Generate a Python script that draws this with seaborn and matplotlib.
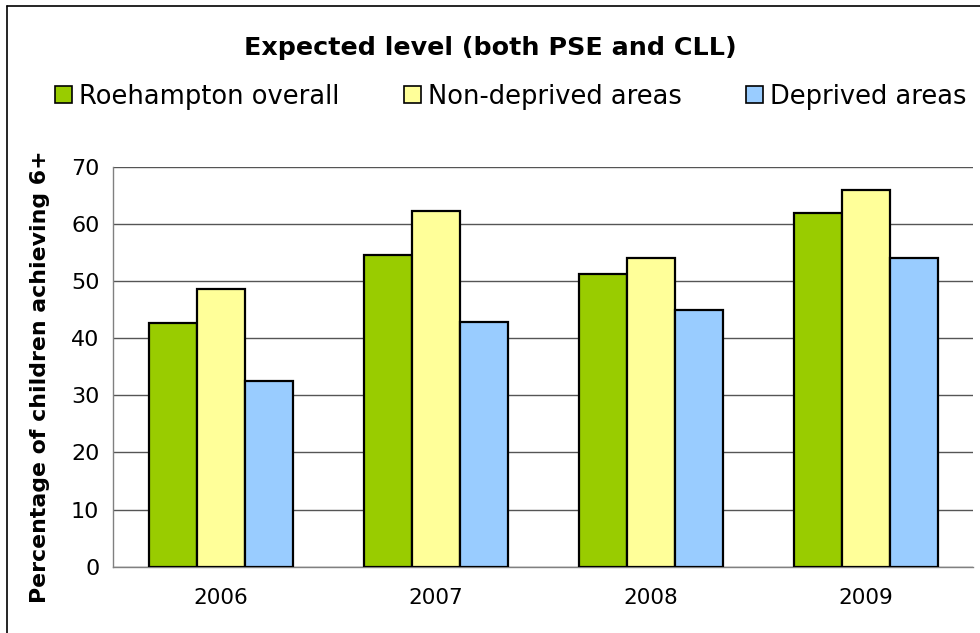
import pandas as pd
import numpy as np
import matplotlib
matplotlib.use("Agg")
import matplotlib.pyplot as plt
from matplotlib.patches import Patch
import seaborn as sns

# data
years = ["2006", "2007", "2008", "2009"]
groups = ["Roehampton overall", "Non-deprived areas", "Deprived areas"]
roehampton = [42.6, 54.5, 51.3, 61.9]
non_deprived = [48.6, 62.2, 54.1, 66.0]
deprived = [32.5, 42.9, 45.0, 54.1]
colors = ["#99CC00", "#FFFF99", "#99CCFF"]

df = pd.DataFrame({
    "year": years * 3,
    "group": [groups[0]] * 4 + [groups[1]] * 4 + [groups[2]] * 4,
    "value": roehampton + non_deprived + deprived,
})

sns.set_style("white")
plt.rcParams["font.family"] = ["DejaVu Sans"]
plt.rcParams["text.color"] = "black"
plt.rcParams["xtick.color"] = "black"
plt.rcParams["ytick.color"] = "black"
plt.rcParams["axes.labelcolor"] = "black"

fig = plt.figure(figsize=(9.8, 6.33), dpi=100)
ax = fig.add_axes([0.1156, 0.1047, 0.8776, 0.632])

sns.barplot(data=df, x="year", y="value", hue="group", palette=colors,
            saturation=1, width=0.67, edgecolor="black", linewidth=1.6,
            gap=0, ax=ax, legend=False, zorder=3)

ax.set_ylim(0, 70)
ax.set_xlim(-0.5, 3.5)
ax.set_yticks(np.arange(0, 71, 10))
ax.yaxis.grid(True, color="#555555", linewidth=1.0, zorder=0)
ax.set_axisbelow(True)
for s in ["top", "right"]:
    ax.spines[s].set_visible(False)
for s in ["left", "bottom"]:
    ax.spines[s].set_color("#808080")
    ax.spines[s].set_linewidth(1.0)

ax.tick_params(axis="y", which="major", direction="out", length=6,
               color="#808080", labelsize=16, pad=4)
ax.tick_params(axis="x", which="major", length=0, labelsize=15.5, pad=15)
ax.set_xticks(np.arange(-0.5, 4, 1), minor=True)
ax.tick_params(axis="x", which="minor", direction="out", length=7,
               color="#808080")
ax.set_xlabel("")
ax.set_ylabel("Percentage of children achieving 6+", fontsize=15.8,
              fontweight="bold")
ax.yaxis.set_label_coords(-0.074, 0.475)

fig.text(0.5, 0.924, "Expected level (both PSE and CLL)", ha="center",
         va="center", fontsize=18.3, fontweight="bold")

handles = [Patch(facecolor=c, edgecolor="black", linewidth=1.2) for c in colors]
fig.legend(handles, groups, loc="center", bbox_to_anchor=(0.521, 0.847),
           ncol=3, frameon=False, fontsize=18.5, handlelength=0.66,
           handleheight=0.66, handletextpad=0.27, columnspacing=2.5,
           borderpad=0, borderaxespad=0)

# outer chart frame
fig.add_artist(plt.Line2D([0.0071, 0.0071], [0, 0.99], transform=fig.transFigure,
                          color="black", linewidth=1.2))
fig.add_artist(plt.Line2D([0.0071, 1.0], [0.99, 0.99], transform=fig.transFigure,
                          color="black", linewidth=1.2))

fig.savefig("out.png", dpi=100)
